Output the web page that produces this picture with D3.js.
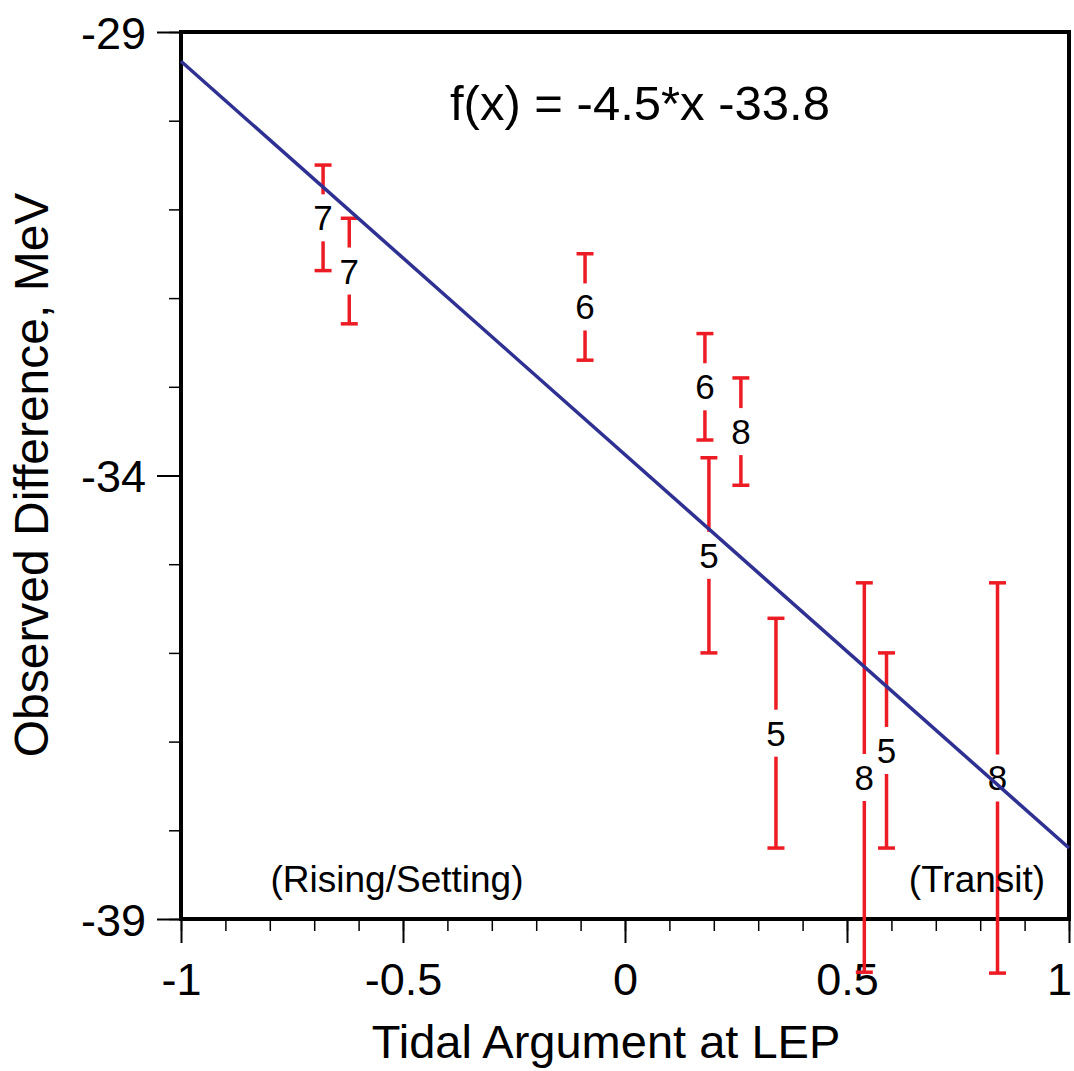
<!DOCTYPE html>
<html>
<head>
<meta charset="utf-8">
<script src="https://cdn.jsdelivr.net/npm/d3@7"></script>
<style>
  html, body { margin: 0; padding: 0; background: #fff; }
  svg { display: block; }
  text { font-family: "Liberation Sans", Arial, Helvetica, sans-serif; fill: #000; }
</style>
</head>
<body>
<svg id="chart" width="1074" height="1071"></svg>
<script>
// ---- data ----
const xValues = [-0.680, -0.621, -0.090, 0.180, 0.261, 0.189, 0.340, 0.539, 0.589, 0.839];
const yHigh   = [-30.50, -31.10, -31.50, -32.40, -32.90, -33.80, -35.61, -35.21, -36.00, -35.21];
const yLow    = [-31.69, -32.29, -32.70, -33.60, -34.11, -36.00, -38.20, -39.60, -38.20, -39.61];
const counts  = ["7", "7", "6", "6", "8", "5", "5", "8", "5", "8"];
const fitX = [-1, 1];
const fitY = [-29.33, -38.20];
const xMajorTicks = [-1, -0.5, 0, 0.5, 1];
const xTickLabels = ["-1", "-0.5", "0", "0.5", "1"];
const yMajorTicks = [-29, -34, -39];
const yTickLabels = ["-29", "-34", "-39"];
const xMinorTicks = d3.range(-10, 11).map(d => d / 10);
const yMinorTicks = d3.range(-39, -28);
const formulaText = "f(x) = -4.5*x -33.8";
const xTitle = "Tidal Argument at LEP";
const yTitle = "Observed Difference, MeV";
const noteLeft = "(Rising/Setting)";
const noteRight = "(Transit)";

// ---- layout ----
(function () {
const svg = d3.select("#chart");
const pL = 181, pR = 1069, pT = 32, pB = 919;
const x = d3.scaleLinear().domain([-1, 1]).range([pL, pR]);
const y = d3.scaleLinear().domain([-29, -39]).range([pT, pB]);
const red = "#ed1c24", navy = "#2e3192";

// minor ticks
svg.append("g").attr("transform", `translate(0,${pB})`)
  .call(d3.axisBottom(x).tickValues(xMinorTicks).tickSize(12).tickFormat(""))
  .call(g => g.select(".domain").remove())
  .call(g => g.selectAll("line").attr("stroke", "#000").attr("stroke-width", 1.5));
svg.append("g").attr("transform", `translate(${pL},0)`)
  .call(d3.axisLeft(y).tickValues(yMinorTicks).tickSize(12).tickFormat(""))
  .call(g => g.select(".domain").remove())
  .call(g => g.selectAll("line").attr("stroke", "#000").attr("stroke-width", 1.5));

// major ticks with labels
svg.append("g").attr("transform", `translate(0,${pB})`)
  .call(d3.axisBottom(x).tickValues(xMajorTicks).tickSize(24).tickPadding(0)
        .tickFormat((d, i) => xTickLabels[i]))
  .call(g => g.select(".domain").remove())
  .call(g => g.selectAll("line").attr("stroke", "#000").attr("stroke-width", 2))
  .call(g => g.selectAll("text").attr("y", 76).attr("dy", null)
        .attr("x", (d, i) => i === xMajorTicks.length - 1 ? -10 : 0)
        .style("font-size", "45px").attr("fill", "#000"));
svg.append("g").attr("transform", `translate(${pL},0)`)
  .call(d3.axisLeft(y).tickValues(yMajorTicks).tickSize(24).tickPadding(11)
        .tickFormat((d, i) => yTickLabels[i]))
  .call(g => g.select(".domain").remove())
  .call(g => g.selectAll("line").attr("stroke", "#000").attr("stroke-width", 2))
  .call(g => g.selectAll("text").attr("dy", "0.36em")
        .style("font-size", "45px").attr("fill", "#000"));

// frame
svg.append("rect")
  .attr("x", pL).attr("y", pT)
  .attr("width", pR - pL).attr("height", pB - pT)
  .attr("fill", "none").attr("stroke", "#000").attr("stroke-width", 4);

// error bars
const gap = 23.5, capHalf = 8.5;
const bars = svg.append("g").attr("stroke", red).attr("stroke-width", 3.5).attr("fill", "none");
xValues.forEach((xv, i) => {
  const px = x(xv), pTop = y(yHigh[i]), pBot = y(yLow[i]);
  const mid = (pTop + pBot) / 2;
  bars.append("line").attr("x1", px).attr("x2", px).attr("y1", pTop).attr("y2", mid - gap);
  bars.append("line").attr("x1", px).attr("x2", px).attr("y1", mid + gap).attr("y2", pBot);
  bars.append("line").attr("x1", px - capHalf).attr("x2", px + capHalf).attr("y1", pTop).attr("y2", pTop);
  bars.append("line").attr("x1", px - capHalf).attr("x2", px + capHalf).attr("y1", pBot).attr("y2", pBot);
  svg.append("text")
    .attr("x", px).attr("y", mid + 12.5)
    .attr("text-anchor", "middle")
    .style("font-size", "35px")
    .text(counts[i]);
});

// fit line
svg.append("path")
  .datum(fitX.map((d, i) => [d, fitY[i]]))
  .attr("d", d3.line().x(d => x(d[0])).y(d => y(d[1])))
  .attr("stroke", navy).attr("stroke-width", 3.5).attr("fill", "none");

// texts
svg.append("text").attr("x", 450).attr("y", 120).style("font-size", "49px").text(formulaText);
svg.append("text").attr("x", 397).attr("y", 892).attr("text-anchor", "middle")
  .style("font-size", "37px").text(noteLeft);
svg.append("text").attr("x", 977).attr("y", 892).attr("text-anchor", "middle")
  .style("font-size", "37px").text(noteRight);
svg.append("text").attr("x", 606).attr("y", 1058).attr("text-anchor", "middle")
  .style("font-size", "47px").text(xTitle);
svg.append("text")
  .attr("transform", "translate(48,475) rotate(-90)")
  .attr("text-anchor", "middle")
  .style("font-size", "48px").text(yTitle);
})();
</script>
</body>
</html>
